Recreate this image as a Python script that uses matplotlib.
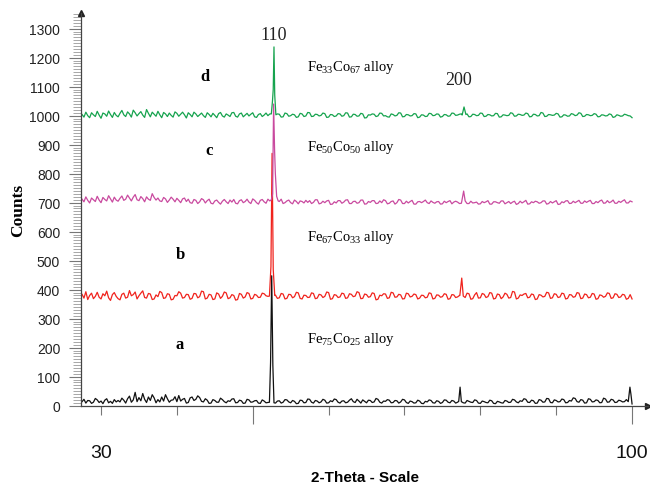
import numpy as np
import matplotlib
matplotlib.use("Agg")
import matplotlib.pyplot as plt
from matplotlib.ticker import MultipleLocator

plt.rcParams["mathtext.fontset"] = "custom"
plt.rcParams["mathtext.rm"] = "Liberation Serif"

# 2-theta grid starts at 27.5 deg, one reading every 0.25 deg (20 per row = 5 deg)
THETA_START = 27.5
THETA_STEP = 0.25

# background counts (a: Fe75Co25, b: Fe67Co33, c: Fe50Co50, d: Fe33Co67)
counts_a = [
    14, 22, 9, 18, 17, 8, 12, 25, 20, 11, 16, 7, 19, 24, 10, 15, 8, 21, 13, 18,
    13, 26, 19, 9, 24, 33, 12, 20, 46, 14, 28, 17, 42, 22, 11, 30, 18, 38, 27, 10,
    21, 13, 30, 16, 38, 24, 12, 19, 20, 31, 14, 35, 16, 22, 25, 9, 11, 27, 30, 18,
    22, 34, 28, 15, 13, 24, 19, 8, 9, 21, 18, 12, 12, 26, 21, 14, 10, 17, 15, 23,
    24, 10, 11, 19, 17, 8, 9, 22, 20, 12, 13, 17, 18, 9, 8, 20, 16, 10, 11, 15,
    14, 10, 9, 16, 17, 9, 12, 21, 20, 13, 10, 18, 15, 7, 8, 19, 18, 10, 11, 23,
    22, 12, 9, 18, 16, 10, 13, 22, 19, 9, 10, 17, 14, 23, 21, 12, 9, 16, 17, 10,
    12, 19, 24, 14, 11, 22, 16, 9, 20, 15, 10, 19, 18, 11, 13, 25, 22, 12, 9, 16,
    15, 21, 19, 10, 11, 18, 17, 9, 13, 22, 20, 11, 8, 16, 14, 9, 10, 19, 16, 8,
    7, 15, 13, 20, 18, 10, 9, 17, 15, 8, 11, 20, 19, 12, 10, 18, 16, 9, 12, 15,
    14, 10, 9, 18, 15, 12, 11, 20, 18, 9, 8, 16, 14, 11, 10, 19, 17, 8, 7, 15,
    13, 10, 9, 18, 16, 11, 12, 22, 20, 13, 10, 17, 15, 24, 22, 12, 11, 19, 17, 8,
    9, 21, 19, 12, 13, 25, 24, 11, 10, 20, 18, 13, 14, 23, 21, 10, 11, 18, 16, 27,
    25, 14, 12, 21, 19, 9, 10, 24, 22, 13, 14, 20, 18, 10, 11, 26, 23, 12, 13, 22,
    20, 11, 12, 19, 17, 13, 14, 21, 19, 15, 6]
counts_b = [
    384, 371, 393, 366, 380, 388, 369, 377, 391, 374, 368, 386, 379, 395, 372, 363, 383, 390, 377, 369,
    365, 384, 388, 371, 374, 397, 379, 383, 392, 368, 379, 388, 396, 373, 371, 387, 385, 366, 368, 382,
    376, 394, 390, 370, 372, 386, 384, 365, 367, 380, 379, 393, 388, 371, 373, 384, 383, 367, 370, 387,
    386, 372, 376, 395, 393, 368, 371, 384, 382, 366, 368, 389, 385, 370, 377, 392, 389, 369, 372, 383,
    380, 364, 366, 387, 384, 371, 375, 390, 387, 368, 370, 384, 381, 373, 374, 388, 386, 379, 377, 381,
    379, 385, 381, 370, 372, 387, 385, 368, 370, 384, 383, 372, 376, 391, 389, 370, 368, 381, 380, 373,
    374, 389, 387, 369, 371, 384, 382, 373, 377, 392, 390, 367, 369, 383, 381, 373, 375, 388, 386, 370,
    372, 386, 384, 376, 378, 393, 390, 369, 370, 385, 383, 374, 376, 389, 387, 365, 367, 381, 379, 386,
    385, 370, 372, 391, 389, 374, 375, 384, 382, 368, 369, 388, 386, 375, 377, 385, 383, 368, 371, 381,
    380, 372, 374, 389, 387, 368, 370, 382, 381, 374, 376, 386, 384, 367, 369, 383, 382, 373, 375, 380,
    378, 383, 373, 388, 386, 367, 369, 382, 390, 371, 372, 387, 384, 373, 376, 390, 388, 368, 370, 385,
    383, 369, 375, 388, 384, 371, 373, 394, 392, 368, 371, 382, 380, 385, 387, 372, 374, 385, 383, 366,
    368, 383, 381, 375, 377, 391, 389, 370, 372, 386, 384, 373, 375, 388, 386, 368, 370, 383, 382, 374,
    376, 390, 388, 369, 371, 385, 383, 372, 374, 387, 385, 367, 369, 382, 380, 374, 377, 389, 387, 370,
    372, 386, 384, 373, 375, 384, 382, 367, 370, 383, 368]
counts_c = [
    712, 703, 720, 708, 699, 716, 710, 704, 722, 709, 700, 718, 711, 706, 724, 713, 702, 719, 709, 705,
    715, 723, 708, 712, 726, 716, 706, 719, 728, 710, 707, 721, 714, 703, 720, 712, 708, 731, 718, 709,
    716, 706, 704, 718, 713, 701, 709, 719, 712, 703, 715, 708, 700, 713, 716, 704, 712, 700, 698, 711,
    708, 697, 703, 714, 710, 699, 707, 712, 698, 696, 706, 709, 701, 695, 705, 711, 703, 697, 709, 702,
    711, 698, 696, 707, 710, 700, 704, 712, 702, 697, 713, 708, 700, 695, 708, 711, 703, 698, 712, 706,
    714, 706, 708, 710, 704, 712, 697, 700, 706, 709, 700, 696, 709, 704, 696, 706, 704, 699, 708, 701,
    707, 697, 701, 710, 710, 696, 698, 705, 700, 706, 708, 694, 695, 703, 699, 707, 707, 698, 702, 709,
    710, 697, 697, 704, 705, 698, 700, 709, 709, 695, 696, 704, 701, 707, 707, 697, 698, 706, 700, 710,
    707, 696, 698, 704, 706, 695, 700, 711, 709, 697, 697, 705, 699, 704, 708, 695, 695, 703, 704, 700,
    704, 709, 700, 697, 706, 701, 698, 703, 704, 695, 696, 705, 700, 704, 707, 696, 702, 705, 702, 697,
    698, 703, 703, 697, 697, 705, 699, 700, 702, 695, 696, 704, 700, 703, 707, 695, 695, 703, 703, 700,
    698, 706, 706, 696, 700, 704, 697, 702, 705, 694, 697, 705, 699, 703, 708, 695, 696, 703, 700, 705,
    703, 698, 700, 706, 706, 695, 697, 704, 699, 703, 707, 694, 695, 703, 700, 706, 707, 697, 698, 705,
    700, 704, 708, 698, 698, 706, 701, 705, 708, 697, 697, 704, 700, 706, 709, 698, 699, 707, 700, 703,
    709, 698, 698, 705, 701, 706, 710, 699, 699, 706, 703]
counts_d = [
    1004, 995, 1012, 1000, 993, 1010, 1003, 997, 1015, 1002, 991, 1009, 1006, 998, 1016, 1004, 994, 1011, 1001, 996,
    1008, 1018, 1003, 997, 1013, 1006, 995, 1019, 1010, 999, 1007, 1014, 1002, 994, 1021, 1008, 996, 1012, 1005, 998,
    1015, 1003, 993, 1011, 1006, 997, 1009, 1001, 995, 1013, 1008, 998, 1005, 1012, 1003, 992, 1010, 1004, 996, 1012,
    1006, 997, 1003, 1009, 1000, 994, 1010, 1004, 996, 1008, 1001, 993, 1007, 1011, 999, 995, 1006, 1002, 997, 1010,
    1011, 998, 995, 1006, 1009, 996, 1002, 1008, 999, 1005, 1010, 996, 994, 1004, 1007, 997, 1002, 1009, 1000, 1006,
    1004, 998, 999, 1006, 1005, 995, 996, 1009, 1007, 998, 1000, 1005, 1003, 994, 996, 1008, 1006, 997, 999, 1011,
    1010, 997, 998, 1005, 1004, 999, 1001, 1009, 1007, 994, 995, 1004, 1003, 997, 999, 1007, 1006, 998, 1000, 1010,
    1009, 995, 996, 1005, 1004, 998, 999, 1008, 1006, 992, 993, 1003, 1002, 1006, 1005, 997, 999, 1009, 1008, 999,
    1000, 996, 995, 1006, 1004, 999, 1001, 1010, 1009, 996, 997, 1004, 1003, 999, 1000, 1007, 1006, 993, 995, 1003,
    1002, 997, 998, 1008, 1007, 1000, 1001, 1006, 1005, 995, 997, 1004, 1003, 998, 999, 1009, 1008, 1001, 1002, 1005,
    1006, 1000, 1001, 1006, 996, 997, 1005, 1004, 1000, 1001, 1009, 1008, 997, 998, 1004, 1003, 999, 1000, 1008, 1007,
    995, 996, 1003, 1002, 1000, 1001, 1010, 1008, 998, 999, 1005, 1004, 1001, 1002, 1009, 1007, 996, 997, 1005, 1004,
    999, 1000, 1011, 1009, 997, 998, 1004, 1003, 1001, 1002, 1008, 1006, 995, 996, 1003, 1002, 998, 999, 1007, 1005,
    1000, 1002, 1010, 1008, 997, 998, 1004, 1003, 1000, 1001, 1007, 1005, 996, 997, 1003, 1002, 999, 1000, 1006, 1004,
    994, 996, 1003, 1001, 998, 999, 1005, 1003, 1000, 999, 993]

# reflections: (2-theta, counts) profiles across each peak
peaks_a = [([52.2, 52.35, 52.5, 52.65, 52.8], [12, 150, 448, 140, 10]),
           ([77.15, 77.33, 77.5], [15, 64, 14]),
           ([99.5, 99.72, 99.85, 100.0], [14, 64, 40, 6])]
peaks_b = [([52.2, 52.4, 52.55, 52.7, 52.9], [378, 480, 870, 470, 380]),
           ([77.3, 77.55, 77.75], [380, 440, 378])]
peaks_c = [([52.45, 52.62, 52.75, 52.88, 52.98, 53.15, 53.35], [710, 730, 1040, 880, 800, 722, 706]),
           ([77.55, 77.8, 78.0], [704, 740, 706])]
peaks_d = [([52.45, 52.6, 52.7, 52.8, 52.9, 53.05], [1006, 1050, 1090, 1237, 1070, 1003]),
           ([77.6, 77.85, 78.1], [1002, 1030, 1004])]

trace_colors = ["#111111", "#f0231d", "#c94a9f", "#16a34e"]
trace_letters = ["a", "b", "c", "d"]
alloy_names = ["Fe$\\mathregular{_{75}}$Co$\\mathregular{_{25}}$ alloy",
               "Fe$\\mathregular{_{67}}$Co$\\mathregular{_{33}}$ alloy",
               "Fe$\\mathregular{_{50}}$Co$\\mathregular{_{50}}$ alloy",
               "Fe$\\mathregular{_{33}}$Co$\\mathregular{_{67}}$ alloy"]
letter_pos = [(40.4, 213), (40.5, 523), (44.2, 882), (43.7, 1136)]
alloy_pos = [(57.2, 230), (57.2, 584), (57.2, 892), (57.2, 1168)]
hkl_labels = [("110", 52.7, 1281), ("200", 77.1, 1123)]


def build_trace(counts, peaks):
    """Merge the background readings with the peak profiles."""
    theta = THETA_START + THETA_STEP * np.arange(len(counts))
    y = np.asarray(counts, dtype=float)
    keep = np.ones(len(theta), dtype=bool)
    for pt, _ in peaks:
        keep &= ~((theta >= min(pt)) & (theta <= max(pt)))
    xs = [theta[keep]] + [np.asarray(pt) for pt, _ in peaks]
    ys = [y[keep]] + [np.asarray(pc, dtype=float) for _, pc in peaks]
    x = np.concatenate(xs)
    y = np.concatenate(ys)
    order = np.argsort(x)
    return x[order], y[order]


fig = plt.figure(figsize=(6.5, 4.89), dpi=100)
ax = fig.add_axes([0.1246, 0.1683, 0.8723, 0.8031])

traces = [(counts_a, peaks_a), (counts_b, peaks_b), (counts_c, peaks_c), (counts_d, peaks_d)]
for (cnt, pk), col in zip(traces, trace_colors):
    x, y = build_trace(cnt, pk)
    ax.plot(x, y, color=col, lw=0.9)

ax.set_xlim(27.36, 102.1)
ax.set_ylim(0, 1354)

for sp in ("top", "right"):
    ax.spines[sp].set_visible(False)
for sp in ("left", "bottom"):
    ax.spines[sp].set_color("#444444")
    ax.spines[sp].set_linewidth(0.9)

# axis arrows
ax.plot(1, 0, ">", color="#222222", ms=4, transform=ax.transAxes, clip_on=False)
ax.plot(0, 1, "^", color="#222222", ms=4, transform=ax.transAxes, clip_on=False)

# y axis
ax.yaxis.set_major_locator(MultipleLocator(100))
ax.yaxis.set_minor_locator(MultipleLocator(10))
ax.tick_params(axis="y", which="major", length=9, width=0.8, color="#777777",
               pad=6, labelsize=10, labelcolor="#222222")
ax.tick_params(axis="y", which="minor", length=6, width=0.6, color="#999999")
for lbl in ax.get_yticklabels():
    lbl.set_fontfamily("Liberation Sans")

# x axis: ticks every 10 deg, only the ends labelled
xt = np.arange(30, 101, 10)
ax.set_xticks(xt)
ax.set_xticklabels([str(v) if v in (30, 100) else "" for v in xt])
ax.tick_params(axis="x", which="major", length=6.5, width=0.8, color="#777777",
               pad=21, labelsize=14, labelcolor="#111111")
for lbl in ax.get_xticklabels():
    lbl.set_fontfamily("Liberation Sans")
for t, v in zip(ax.xaxis.get_major_ticks(), xt):
    if v in (50, 100):
        t.tick1line.set_markersize(13)

# annotations
for (lx, ly), s in zip(letter_pos, trace_letters):
    ax.text(lx, ly, s, ha="center", va="center", fontsize=12, fontweight="bold",
            family="Liberation Serif")
for (lx, ly), s in zip(alloy_pos, alloy_names):
    ax.text(lx, ly, s, ha="left", va="center", fontsize=10.5, family="Liberation Serif")
for s, lx, ly in hkl_labels:
    ax.text(lx, ly, s, ha="center", va="center", fontsize=13, family="Liberation Serif",
            color="#222222")

fig.text(18 / 650, 1 - 210 / 489, "Counts", rotation=90, ha="center", va="center",
         fontsize=12.5, fontweight="bold", family="Liberation Serif")
fig.text(365 / 650, 1 - 478 / 489, "2-Theta - Scale", ha="center", va="center",
         fontsize=11, fontweight="bold", family="Liberation Sans")

fig.savefig("out.png", dpi=100)
